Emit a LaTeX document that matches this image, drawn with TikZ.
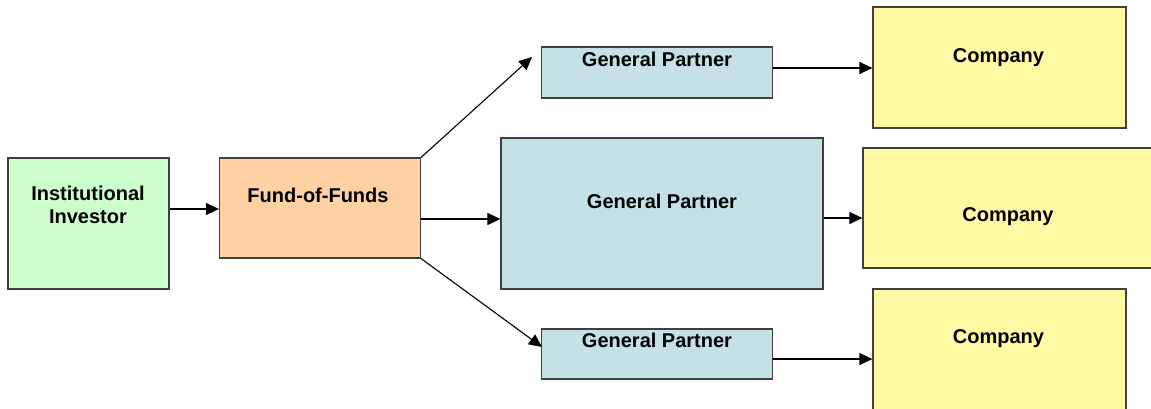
\documentclass[tikz,border=0pt]{standalone}
\usepackage{fontspec}
\setmainfont{Liberation Sans}
\usetikzlibrary{arrows.meta,calc}
\definecolor{invgreen}{HTML}{CCFFCC}
\definecolor{fofpeach}{HTML}{FFD1A3}
\definecolor{gpblue}{HTML}{C5E1E5}
\definecolor{coyellow}{HTML}{FFFAA3}
\definecolor{edgegray}{HTML}{404040}
\begin{document}
\begin{tikzpicture}[x=1pt,y=-1pt,
  box/.style={draw=edgegray,line width=1.2pt,inner sep=0pt,rectangle},
  lbl/.style={font=\bfseries\fontsize{20}{23.5}\selectfont,anchor=base,align=center,inner sep=0pt},
  conn/.style={draw=black,line width=1.1pt,-{Triangle[length=13pt,width=12pt]}}]
\useasboundingbox (0,0) rectangle (1151,409);
\clip (0,0) rectangle (1151,409);
% boxes
\node[box,fill=invgreen,minimum width=161pt,minimum height=131pt] (ii) at (88.5,223.5) {};
\node[box,fill=fofpeach,minimum width=201pt,minimum height=100pt] (fof) at (320,208) {};
\node[box,fill=gpblue,minimum width=231pt,minimum height=51pt] (gp1) at (657,72.5) {};
\node[box,fill=gpblue,minimum width=322pt,minimum height=151pt] (gp2) at (662,213.5) {};
\node[box,fill=gpblue,minimum width=231pt,minimum height=50pt] (gp3) at (657,354) {};
\node[box,fill=coyellow,minimum width=253pt,minimum height=121pt] (c1) at (999.5,67.5) {};
\node[box,fill=coyellow,minimum width=290pt,minimum height=120pt] (c2) at (1008,208) {};
\node[box,fill=coyellow,minimum width=253pt,minimum height=122pt] (c3) at (999.5,350) {};
% labels
\node[lbl] (tii) at (88,223.5) {Institutional\\Investor};
\node[lbl] (tfof) at (318,202) {Fund-of-Funds};
\node[lbl] (tgp1) at (657,66.5) {General Partner};
\node[lbl] (tgp2) at (662,208) {General Partner};
\node[lbl] (tgp3) at (657,347) {General Partner};
\node[lbl] (tc1) at (998.5,63) {Company};
\node[lbl] (tc2) at (1008,221) {Company};
\node[lbl] (tc3) at (998.5,343) {Company};
% connectors
\coordinate (a1) at (421,209);
\draw[conn] (ii.east |- a1) -- (fof.west |- a1);
\coordinate (a2e) at (532,57);
\draw[conn] (fof.north east) -- (a2e);
\coordinate (a3) at (421,219);
\draw[conn] (fof.east |- a3) -- (gp2.west |- a3);
\coordinate (a4e) at (542,347);
\draw[conn] (fof.south east) -- (a4e);
\coordinate (b1) at (800,68);
\draw[conn] (gp1.east |- b1) -- (c1.west |- b1);
\coordinate (b2) at (840,218);
\draw[conn] (gp2.east |- b2) -- (c2.west |- b2);
\coordinate (b3) at (800,359);
\draw[conn] (gp3.east |- b3) -- (c3.west |- b3);
\end{tikzpicture}
\end{document}
